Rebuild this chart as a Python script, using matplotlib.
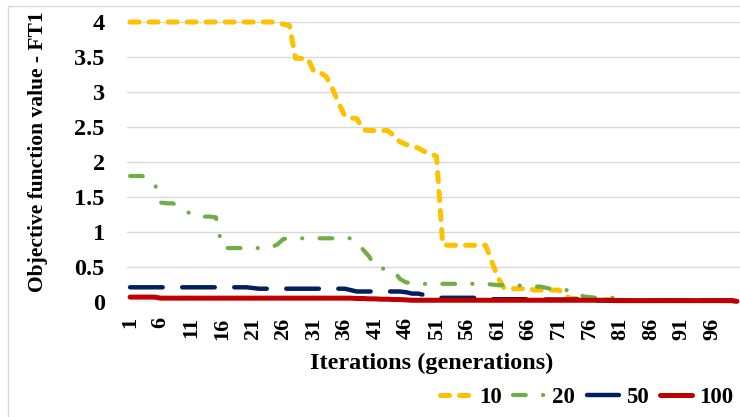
import matplotlib.pyplot as plt
from matplotlib.lines import Line2D

plt.rcParams['font.family'] = ['Liberation Serif', 'DejaVu Serif']
plt.rcParams['font.weight'] = 'bold'
plt.rcParams['lines.scale_dashes'] = False

iterations = list(range(1, 101))

# population size 10
s10 = [4.0, 4.0, 4.0, 4.0, 4.0, 4.0, 4.0, 4.0, 4.0, 4.0,
       4.0, 4.0, 4.0, 4.0, 4.0, 4.0, 4.0, 4.0, 4.0, 4.0,
       4.0, 4.0, 4.0, 4.0, 3.99, 3.97, 3.95, 3.48, 3.48, 3.48,
       3.29, 3.28, 3.22, 3.05, 2.85, 2.66, 2.63, 2.62, 2.46, 2.45,
       2.45, 2.45, 2.45, 2.38, 2.29, 2.25, 2.23, 2.2, 2.15, 2.12,
       2.08, 0.82, 0.81, 0.81, 0.81, 0.81, 0.81, 0.81, 0.81, 0.58,
       0.35, 0.2, 0.19, 0.19, 0.19, 0.19, 0.17, 0.17, 0.17, 0.17,
       0.17, 0.08, 0.05, 0.05, 0.04, 0.04, 0.03, 0.03, 0.03, 0.03,
       0.02, 0.02, 0.02, 0.02, 0.02, 0.02, 0.02, 0.02, 0.02, 0.02,
       0.02, 0.02, 0.02, 0.02, 0.02, 0.02, 0.02, 0.02, 0.02, 0.01]

# population size 20
s20 = [1.8, 1.8, 1.8, 1.75, 1.7, 1.42, 1.41, 1.41, 1.36, 1.31,
       1.25, 1.22, 1.22, 1.22, 1.21, 0.78, 0.77, 0.77, 0.77, 0.77,
       0.77, 0.77, 0.77, 0.78, 0.82, 0.9, 0.91, 0.91, 0.91, 0.91,
       0.91, 0.91, 0.91, 0.91, 0.91, 0.91, 0.91, 0.85, 0.75, 0.65,
       0.5, 0.48, 0.47, 0.45, 0.33, 0.28, 0.27, 0.26, 0.26, 0.26,
       0.26, 0.26, 0.26, 0.26, 0.26, 0.26, 0.26, 0.26, 0.26, 0.25,
       0.24, 0.24, 0.24, 0.24, 0.23, 0.22, 0.22, 0.22, 0.2, 0.18,
       0.17, 0.17, 0.17, 0.12, 0.08, 0.07, 0.06, 0.06, 0.06, 0.06,
       0.05, 0.03, 0.02, 0.02, 0.02, 0.02, 0.02, 0.02, 0.02, 0.02,
       0.02, 0.02, 0.02, 0.02, 0.02, 0.02, 0.02, 0.02, 0.02, 0.01]

# population size 50
s50 = [0.21, 0.21, 0.21, 0.21, 0.21, 0.21, 0.21, 0.21, 0.21, 0.21,
       0.21, 0.21, 0.21, 0.21, 0.21, 0.21, 0.21, 0.21, 0.21, 0.21,
       0.2, 0.19, 0.19, 0.19, 0.19, 0.19, 0.19, 0.19, 0.19, 0.19,
       0.19, 0.19, 0.19, 0.19, 0.19, 0.19, 0.17, 0.15, 0.15, 0.15,
       0.15, 0.15, 0.15, 0.15, 0.15, 0.14, 0.12, 0.12, 0.1, 0.07,
       0.06, 0.06, 0.06, 0.06, 0.06, 0.06, 0.06, 0.06, 0.04, 0.04,
       0.04, 0.04, 0.04, 0.04, 0.04, 0.04, 0.035, 0.035, 0.035, 0.035,
       0.035, 0.035, 0.035, 0.035, 0.035, 0.02, 0.02, 0.02, 0.02, 0.02,
       0.02, 0.02, 0.02, 0.02, 0.02, 0.02, 0.02, 0.02, 0.02, 0.02,
       0.02, 0.02, 0.02, 0.02, 0.02, 0.02, 0.02, 0.02, 0.02, 0.01]

# population size 100
s100 = [0.07, 0.07, 0.07, 0.07, 0.07, 0.055, 0.055, 0.055, 0.055, 0.055,
        0.055, 0.055, 0.055, 0.055, 0.055, 0.055, 0.055, 0.055, 0.055, 0.055,
        0.055, 0.055, 0.055, 0.055, 0.055, 0.055, 0.055, 0.055, 0.055, 0.055,
        0.055, 0.055, 0.055, 0.055, 0.055, 0.055, 0.055, 0.05, 0.05, 0.045,
        0.045, 0.04, 0.04, 0.035, 0.035, 0.03, 0.025, 0.025, 0.025, 0.025,
        0.025, 0.025, 0.025, 0.025, 0.025, 0.025, 0.025, 0.025, 0.025, 0.025,
        0.025, 0.025, 0.025, 0.025, 0.025, 0.025, 0.025, 0.025, 0.025, 0.025,
        0.025, 0.025, 0.025, 0.025, 0.025, 0.025, 0.025, 0.025, 0.025, 0.02,
        0.02, 0.02, 0.02, 0.02, 0.02, 0.02, 0.02, 0.02, 0.02, 0.02,
        0.02, 0.02, 0.02, 0.02, 0.02, 0.02, 0.02, 0.02, 0.02, 0.01]

series_labels = ['10', '20', '50', '100']
y_ticks = [0, 0.5, 1, 1.5, 2, 2.5, 3, 3.5, 4]
y_tick_labels = ['0', '0.5', '1', '1.5', '2', '2.5', '3', '3.5', '4']
x_ticks = list(range(1, 101, 5))

fig = plt.figure(figsize=(7.4, 4.17), dpi=100)
ax = fig.add_axes([127 / 740, 115 / 417, 613 / 740, 280 / 417])

styles = [
    dict(color='#FFC000', lw=3.6, ls=(0, (6.5, 7.2)), dash_capstyle='round'),
    dict(color='#70AD47', lw=3.0, ls=(0, (9.2, 12.4, 0.1, 12.4)), dash_capstyle='round'),
    dict(color='#002060', lw=3.2, ls=(0, (23.5, 14)), dash_capstyle='round'),
    dict(color='#C00000', lw=3.6, ls='-', solid_capstyle='round'),
]

for vals, lab, st in zip([s10, s20, s50, s100], series_labels, styles):
    ax.plot(iterations, vals, label=lab, clip_on=False, zorder=3, **st)

ax.set_xlim(0.5, 100.5)
ax.set_ylim(0, 4)
ax.set_yticks(y_ticks)
ax.set_yticklabels(y_tick_labels, fontsize=17.5)
ax.set_xticks(x_ticks)
ax.set_xticklabels([str(t) for t in x_ticks], rotation=90, fontsize=16)
ax.tick_params(axis='y', length=0, pad=16)
ax.tick_params(axis='x', length=0, pad=11)
ax.grid(axis='y', color='#D9D9D9', lw=1.0)
ax.set_axisbelow(True)
for sp in ax.spines.values():
    sp.set_visible(False)

fig.text(432 / 740, (417 - 363) / 417, 'Iterations (generations)',
         ha='center', va='center', fontsize=17.5, fontweight='bold')
fig.text(38 / 740, (417 - 152) / 417, 'Objective function value - FT1',
         ha='center', va='center', rotation=90, fontsize=15.5, fontweight='bold')

fig.legend(loc='center right', bbox_to_anchor=(733 / 740, (417 - 397) / 417),
           ncol=4, frameon=False, fontsize=16.5, handlelength=1.4,
           handletextpad=0.3, columnspacing=0.5, borderpad=0, borderaxespad=0)

# chart area border
fig.add_artist(Line2D([8 / 740, 8 / 740, 1.0], [0.0, 1 - 6 / 417, 1 - 6 / 417],
                      transform=fig.transFigure, color='#D9D9D9', lw=1.0))

fig.savefig('out.png', dpi=100)
